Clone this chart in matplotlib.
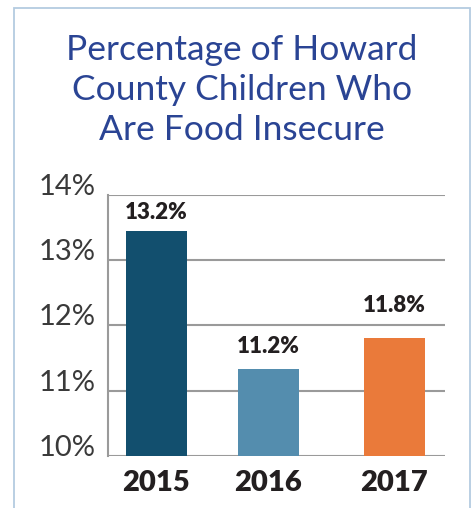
import matplotlib
matplotlib.use("Agg")
import matplotlib.pyplot as plt
from matplotlib.patches import Rectangle
from matplotlib.transforms import ScaledTranslation

plt.rcParams['font.family'] = ['Lato', 'DejaVu Sans']

# data
years = ["2015", "2016", "2017"]
bar_heights = [13.45, 11.33, 11.8]
value_labels = ["13.2%", "11.2%", "11.8%"]
bar_colors = ["#124f6e", "#548dae", "#ea7a3a"]
yticks = [10, 11, 12, 13, 14]
ytick_labels = ["10%", "11%", "12%", "13%", "14%"]

# layout
xpos = [0, 1, 2.125]
label_offsets = [6, 9, 16]   # points above bar top
W, H = 474, 508

fig = plt.figure(figsize=(W / 100, H / 100), dpi=100)

# light frame around the chart
fig.patches.append(Rectangle((14 / W, -0.05), (470 - 14) / W, 1.05 - 8 / H,
                             transform=fig.transFigure, fill=False,
                             edgecolor="#b4cbe0", linewidth=1.3))

fig.text(242 / W, 1 - 34 / H,
         "Percentage of Howard\nCounty Children Who\nAre Food Insecure",
         ha="center", va="top", fontsize=25.5, color="#2a4494",
         linespacing=1.3)

ax = fig.add_axes([108 / W, 1 - 455.7 / H, (445 - 108) / W, (455.7 - 195) / H])
ax.bar(xpos, [h - 10 for h in bar_heights], bottom=10, width=0.545,
       color=bar_colors, zorder=3)

for x, h, t, off in zip(xpos, bar_heights, value_labels, label_offsets):
    ax.annotate(t, (x, h), xytext=(0, off), textcoords="offset points",
                ha="center", va="bottom", fontsize=16, fontweight="heavy",
                color="#231f20")

ax.set_ylim(10, 14)
ax.set_xlim(-0.433, 2.576)
ax.set_yticks(yticks)
ax.set_yticklabels(ytick_labels, fontsize=21, color="#3a3a3a")
for lbl in ax.get_yticklabels():
    lbl.set_va("baseline")
    lbl.set_transform(lbl.get_transform() + ScaledTranslation(0, 3 / 72, fig.dpi_scale_trans))
ax.set_xticks(xpos)
ax.set_xticklabels(years, fontsize=21, fontweight="heavy", color="#231f20")
ax.tick_params(axis="y", length=0, pad=9)
ax.tick_params(axis="x", length=0, pad=10)

ax.grid(axis="y", color="#9a9a9a", linewidth=1.5, zorder=0)
ax.set_axisbelow(True)
for s in ["top", "right", "bottom"]:
    ax.spines[s].set_visible(False)
ax.spines["left"].set_color("#9a9a9a")
ax.spines["left"].set_linewidth(1.5)

fig.savefig("out.png", dpi=100)
